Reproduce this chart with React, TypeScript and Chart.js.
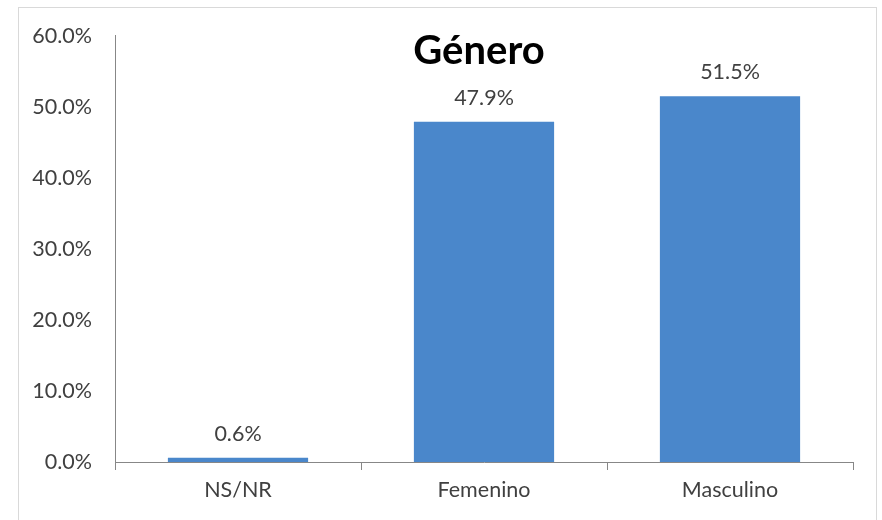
import React, { useEffect, useRef } from "react";
import { Chart, registerables } from "chart.js";

Chart.register(...registerables);

const categories = ["NS/NR", "Femenino", "Masculino"];
const values = [0.6, 47.9, 51.5];
const yTicks = [0, 10, 20, 30, 40, 50, 60];
const titleText = "Género";

const FONT = "Lato, 'Liberation Sans', sans-serif";

const labelPlugin = {
  id: "barLabels",
  afterDatasetsDraw(chart: any) {
    const { ctx } = chart;
    const meta = chart.getDatasetMeta(0);
    ctx.save();
    ctx.font = `21.5px ${FONT}`;
    ctx.fillStyle = "#404040";
    ctx.textAlign = "center";
    ctx.textBaseline = "bottom";
    meta.data.forEach((bar: any, i: number) => {
      ctx.fillText(values[i].toFixed(1) + "%", bar.x, bar.y - 13);
    });
    ctx.restore();
  },
};

const titlePlugin = {
  id: "innerTitle",
  afterDraw(chart: any) {
    const { ctx, chartArea } = chart;
    ctx.save();
    ctx.font = `bold 40px ${FONT}`;
    ctx.fillStyle = "#000000";
    ctx.textAlign = "center";
    ctx.textBaseline = "middle";
    ctx.fillText(titleText, (chartArea.left + chartArea.right) / 2 - 5, chartArea.top + 15);
    ctx.restore();
  },
};

export default function App() {
  const ref = useRef<HTMLCanvasElement | null>(null);
  useEffect(() => {
    document.body.style.margin = "0";
    if (!ref.current) return;
    const chart = new Chart(ref.current, {
      type: "bar",
      data: {
        labels: categories,
        datasets: [
          {
            data: values,
            backgroundColor: "#4a87cb",
            borderWidth: 0,
            categoryPercentage: 0.57,
            barPercentage: 1,
          },
        ],
      },
      options: {
        animation: false,
        responsive: false,
        maintainAspectRatio: false,
        layout: { padding: { top: 33, right: 29, left: 0, bottom: 0 } },
        plugins: {
          legend: { display: false },
          tooltip: { enabled: false },
          title: { display: false },
        },
        scales: {
          x: {
            grid: {
              offset: true,
              drawOnChartArea: false,
              drawTicks: true,
              tickLength: 8,
              color: "#878787",
            },
            border: { display: true, color: "#878787" },
            ticks: {
              color: "#404040",
              font: { family: FONT, size: 21.5 },
              padding: 7,
            },
            afterFit(scale: any) {
              scale.height = 58;
            },
          },
          y: {
            min: 0,
            max: 60,
            afterBuildTicks(scale: any) {
              scale.ticks = yTicks.map((v) => ({ value: v }));
            },
            grid: { display: false, drawTicks: false },
            border: { display: true, color: "#878787" },
            ticks: {
              color: "#404040",
              font: { family: FONT, size: 21.5 },
              padding: 23,
              callback: (v: any) => Number(v).toFixed(1) + "%",
            },
            afterFit(scale: any) {
              scale.width = 115;
            },
          },
        },
      },
      plugins: [labelPlugin, titlePlugin],
    });
    return () => chart.destroy();
  }, []);

  return (
    <div style={{ position: "relative", width: 882, height: 520, overflow: "hidden", background: "#fff" }}>
      <canvas ref={ref} width={882} height={520} style={{ display: "block" }} />
      <div
        style={{
          position: "absolute",
          left: 18,
          top: 7,
          width: 857,
          height: 540,
          border: "1px solid #d9d9d9",
          pointerEvents: "none",
        }}
      />
    </div>
  );
}
